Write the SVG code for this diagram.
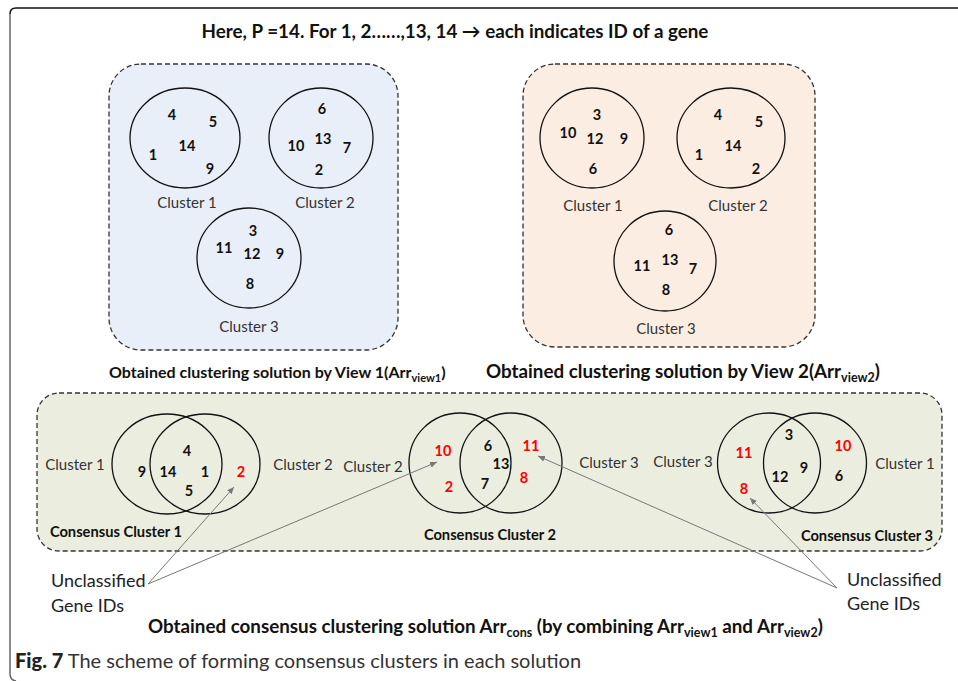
<svg xmlns="http://www.w3.org/2000/svg" width="958" height="681" viewBox="0 0 958 681">
<style>
text{font-family:Lato,"Open Sans","Liberation Sans",sans-serif;fill:#111}
.n{font-size:14.5px;font-weight:bold;text-anchor:middle}
.r{fill:#ff0000}
.cl{font-size:15px;fill:#333;text-anchor:middle}
.cap{font-size:18.8px;font-weight:bold}
.cap1{font-size:16px;font-weight:bold}
.sub{font-size:12.5px}
.sub1{font-size:11px}
.box{stroke:#333;stroke-width:1.3;stroke-dasharray:5 3}
.c{fill:none;stroke:#111;stroke-width:1.3}
.cc{font-size:14.7px;font-weight:bold;text-anchor:middle}
.ul{font-size:18px;fill:#222}
.conn line{stroke:#777;stroke-width:1}
</style>
<defs>
<marker id="ah" markerWidth="8" markerHeight="8" refX="7" refY="4" orient="auto" markerUnits="userSpaceOnUse">
<path d="M0,1 L7,4 L0,7 Z" fill="#777"/>
</marker>
</defs>
<rect width="958" height="681" fill="#fff"/>
<path d="M958,8 H16 Q10,8 10,14" fill="none" stroke="#111" stroke-width="1.5"/>
<path d="M10,14 V674 Q10,680 16,681" fill="none" stroke="#666" stroke-width="1.5"/>

<text class="cap" x="455" y="38" text-anchor="middle">Here, P =14. For 1, 2……,13, 14 → each indicates ID of a gene</text>

<g id="view1">
<rect class="box" x="109" y="64" width="289" height="286" rx="32" fill="#e9eff8"/>
<g id="v1c1">
<ellipse class="c" cx="185" cy="138" rx="55" ry="50"/>
<text class="n" x="172" y="120">4</text><text class="n" x="213" y="127">5</text><text class="n" x="187" y="151">14</text><text class="n" x="153" y="160">1</text><text class="n" x="210" y="174">9</text>
<text class="cl" x="187" y="208">Cluster 1</text>
</g>
<g id="v1c2">
<ellipse class="c" cx="321" cy="138" rx="52" ry="50"/>
<text class="n" x="322" y="114">6</text><text class="n" x="296" y="151">10</text><text class="n" x="323" y="144">13</text><text class="n" x="347" y="153">7</text><text class="n" x="319" y="175">2</text>
<text class="cl" x="325" y="208">Cluster 2</text>
</g>
<g id="v1c3">
<ellipse class="c" cx="249" cy="258" rx="52" ry="50"/>
<text class="n" x="253" y="236">3</text><text class="n" x="224" y="253">11</text><text class="n" x="252" y="259">12</text><text class="n" x="280" y="259">9</text><text class="n" x="250" y="289">8</text>
<text class="cl" x="249" y="332">Cluster 3</text>
</g>
</g>

<g id="view2">
<rect class="box" x="523" y="64" width="292" height="283" rx="32" fill="#fcede3"/>
<g id="v2c1">
<ellipse class="c" cx="592" cy="138" rx="52" ry="50"/>
<text class="n" x="597" y="120">3</text><text class="n" x="568" y="138">10</text><text class="n" x="595" y="144">12</text><text class="n" x="624" y="144">9</text><text class="n" x="593" y="174">6</text>
<text class="cl" x="593" y="211">Cluster 1</text>
</g>
<g id="v2c2">
<ellipse class="c" cx="731" cy="138" rx="54" ry="50"/>
<text class="n" x="718" y="120">4</text><text class="n" x="759" y="127">5</text><text class="n" x="733" y="151">14</text><text class="n" x="699" y="160">1</text><text class="n" x="756" y="174">2</text>
<text class="cl" x="738" y="211">Cluster 2</text>
</g>
<g id="v2c3">
<ellipse class="c" cx="665" cy="261" rx="51" ry="50"/>
<text class="n" x="669" y="235">6</text><text class="n" x="642" y="271">11</text><text class="n" x="670" y="265">13</text><text class="n" x="693" y="274">7</text><text class="n" x="666" y="295">8</text>
<text class="cl" x="666" y="334">Cluster 3</text>
</g>
</g>

<text class="cap1" x="109" y="378">Obtained clustering solution by View 1(Arr<tspan class="sub1" dy="4">view1</tspan><tspan dy="-4">)</tspan></text>
<text class="cap" x="486" y="378">Obtained clustering solution by View 2(Arr<tspan class="sub" dy="4">view2</tspan><tspan dy="-4">)</tspan></text>

<g id="consensus">
<rect class="box" x="37" y="393" width="905" height="158" rx="22" fill="#ebeedf"/>
<g id="cons1">
<ellipse class="c" cx="167" cy="464" rx="55" ry="50"/>
<ellipse class="c" cx="205" cy="464" rx="55" ry="50"/>
<text class="cl" x="75" y="470">Cluster 1</text><text class="cl" x="303" y="470">Cluster 2</text>
<text class="n" x="142" y="477">9</text><text class="n" x="168" y="477">14</text><text class="n" x="187" y="456">4</text><text class="n" x="205" y="477">1</text><text class="n" x="189" y="496">5</text><text class="n r" x="241" y="477">2</text>
<text class="cc" x="116" y="537">Consensus Cluster 1</text>
</g>
<g id="cons2">
<ellipse class="c" cx="460" cy="463" rx="51" ry="50"/>
<ellipse class="c" cx="511" cy="463" rx="51" ry="50"/>
<text class="cl" x="373" y="472">Cluster 2</text><text class="cl" x="609" y="468">Cluster 3</text>
<text class="n r" x="443" y="456">10</text><text class="n r" x="449" y="492">2</text><text class="n" x="488" y="451">6</text><text class="n" x="501" y="469">13</text><text class="n" x="485" y="489">7</text><text class="n r" x="531" y="451">11</text><text class="n r" x="524" y="483">8</text>
<text class="cc" x="490" y="540">Consensus Cluster 2</text>
</g>
<g id="cons3">
<ellipse class="c" cx="769" cy="463" rx="51.5" ry="50"/>
<ellipse class="c" cx="815" cy="463" rx="51.5" ry="50"/>
<text class="cl" x="683" y="467">Cluster 3</text><text class="cl" x="905" y="469">Cluster 1</text>
<text class="n r" x="744" y="458">11</text><text class="n r" x="744" y="494">8</text><text class="n" x="789" y="440">3</text><text class="n" x="780" y="482">12</text><text class="n" x="804" y="473">9</text><text class="n r" x="843" y="451">10</text><text class="n" x="839" y="481">6</text>
<text class="cc" x="867" y="541">Consensus Cluster 3</text>
</g>
</g>

<g id="unclassified-left">
<text class="ul" x="51" y="587">Unclassified</text>
<text class="ul" x="51" y="612">Gene IDs</text>
</g>
<g id="unclassified-right">
<text class="ul" x="847" y="586">Unclassified</text>
<text class="ul" x="847" y="610">Gene IDs</text>
</g>

<g class="conn" id="connectors">
<line x1="148" y1="584" x2="234" y2="487" marker-end="url(#ah)"/>
<line x1="148" y1="584" x2="437" y2="462" marker-end="url(#ah)"/>
<line x1="837" y1="588" x2="538" y2="456" marker-end="url(#ah)"/>
<line x1="837" y1="588" x2="750" y2="498" marker-end="url(#ah)"/>
</g>

<text class="cap" x="148" y="633">Obtained consensus clustering solution Arr<tspan class="sub" dy="4">cons</tspan><tspan dy="-4"> (by combining Arr</tspan><tspan class="sub" dy="4">view1</tspan><tspan dy="-4"> and Arr</tspan><tspan class="sub" dy="4">view2</tspan><tspan dy="-4">)</tspan></text>

<text x="15" y="668" style="font-size:20px;fill:#333"><tspan style="font-weight:900;fill:#222">Fig. 7</tspan>  The scheme of forming consensus clusters in each solution</text>
</svg>
